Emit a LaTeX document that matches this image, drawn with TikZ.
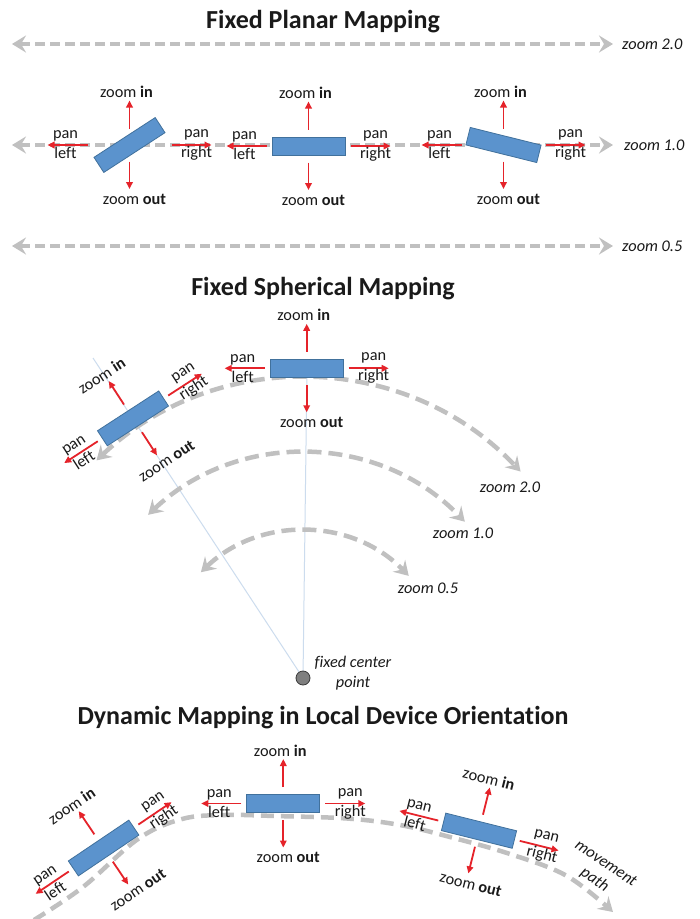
\documentclass[tikz,border=0pt]{standalone}
\usepackage{fontspec}
\setmainfont{Carlito}[Ligatures=NoCommon]
\usetikzlibrary{arrows.meta}
\definecolor{boxfill}{HTML}{5B93CD}
\definecolor{boxline}{HTML}{41719C}
\definecolor{dashgray}{HTML}{C0C0C0}
\definecolor{arrred}{HTML}{E5232A}
\definecolor{rayblue}{HTML}{CCDCEE}
\definecolor{txt}{HTML}{1A1A1A}
\definecolor{dotfill}{HTML}{7F7F7F}
\definecolor{dotline}{HTML}{3A3A3A}
\tikzset{
 devbox/.style={draw=boxline, line width=0.8pt, fill=boxfill, minimum width=73pt, minimum height=18pt, inner sep=0pt},
 redarr/.style={draw=arrred, line width=1.8pt, -{Triangle[length=7pt,width=6.5pt]}},
 lbl/.style={font=\fontsize{16.3}{20}\selectfont, text=txt, inner sep=0pt, align=center},
 zlbl/.style={font=\fontsize{16.3}{20}\selectfont\itshape, text=txt, inner sep=0pt, align=center},
 ttl/.style={font=\fontsize{26}{30}\selectfont\bfseries, text=txt, inner sep=0pt},
 grayhead/.tip={Stealth[length=14pt,width=17pt,inset=5pt]},
 flatdash/.style={draw=dashgray, line width=4pt, dash pattern=on 10pt off 5pt, grayhead-grayhead},
 arcdash/.style={draw=dashgray, line width=4.5pt, dash pattern=on 14pt off 7pt, grayhead-grayhead},
 pathdash/.style={draw=dashgray, line width=4.5pt, dash pattern=on 13pt off 7pt, -grayhead},
 ray/.style={draw=rayblue, line width=1pt},
}
\newcommand{\DevBox}[5]{%
 \begin{scope}[shift={(#2,#3)}, rotate=#5, transform shape]
  \node[devbox, rotate=#4-#5] (#1) at (0,0) {};
  \coordinate (#1i0) at (0,-16.5); \coordinate (#1i1) at (0,-44.5);
  \coordinate (#1o0) at (0,16.5);  \coordinate (#1o1) at (0,44);
  \coordinate (#1l0) at (-42,0);   \coordinate (#1l1) at (-82,0);
  \coordinate (#1r0) at (42,0);    \coordinate (#1r1) at (82,0);
  \draw[redarr] (#1i0) -- (#1i1);
  \draw[redarr] (#1o0) -- (#1o1);
  \draw[redarr] (#1l0) -- (#1l1);
  \draw[redarr] (#1r0) -- (#1r1);
  \node[lbl] (#1in) at (-3,-53) {zoom \textbf{in}};
  \node[lbl] (#1out) at (5,54) {zoom \textbf{out}};
  \node[lbl] (#1left) at (-64,0) {pan\\left};
  \node[lbl] (#1right) at (67,0) {pan\\right};
 \end{scope}}
\begin{document}
\begin{tikzpicture}[x=1pt,y=-1pt]
\fill[white] (0,0) rectangle (700,919);
\useasboundingbox (0,0) rectangle (700,919);

% ---------- Fixed Planar Mapping ----------
\node[ttl, anchor=base] (t1) at (323,28.5) {Fixed Planar Mapping};
\coordinate (l2a) at (12,44);  \coordinate (l2b) at (613,44);
\coordinate (l1a) at (12,145); \coordinate (l1b) at (613,145);
\coordinate (l0a) at (12,246); \coordinate (l0b) at (613,246);
\draw[flatdash] (l2a) -- (l2b);
\draw[flatdash] (l1a) -- (l1b);
\draw[flatdash] (l0a) -- (l0b);
\node[zlbl, anchor=west] (z20) at (622,44) {zoom 2.0};
\node[zlbl, anchor=west] (z10) at (624,145) {zoom 1.0};
\node[zlbl, anchor=west] (z05) at (622,246) {zoom 0.5};
\DevBox{pa}{129.5}{145}{33}{0}
\DevBox{pb}{308.5}{146}{0}{0}
\DevBox{pc}{503.5}{145}{-14}{0}

% ---------- Fixed Spherical Mapping ----------
\node[ttl, anchor=base] (t2) at (323,295) {Fixed Spherical Mapping};
\coordinate (cpc) at (303,678);
\coordinate (rayL) at (93,358);
\coordinate (rayC) at (307,368);
\draw[ray] (cpc) -- (rayL);
\draw[ray] (cpc) -- (rayC);
\draw[arcdash] ([shift={(-133.5:300)}]cpc) arc[start angle=-133.5, end angle=-43.5, radius=300];
\draw[arcdash] ([shift={(-133.5:225)}]cpc) arc[start angle=-133.5, end angle=-44, radius=225];
\draw[arcdash] ([shift={(-134:147)}]cpc) arc[start angle=-134, end angle=-44, radius=147];
\node[circle, fill=dotfill, draw=dotline, line width=0.8pt, minimum size=14pt, inner sep=0pt] (cp) at (cpc) {};
\node[zlbl] (fcp) at (353,673) {fixed center\\point};
\node[zlbl] (s20) at (510,487) {zoom 2.0};
\node[zlbl] (s10) at (463,533) {zoom 1.0};
\node[zlbl] (s05) at (428,588) {zoom 0.5};
\DevBox{sb}{306.7}{368.3}{0}{0}
\DevBox{sa}{133}{418.4}{33}{33}

% ---------- Dynamic Mapping ----------
\node[ttl, anchor=base] (t3) at (323,724) {Dynamic Mapping in Local Device Orientation};
\draw[pathdash] plot[smooth, tension=0.6] coordinates {(34,920) (83,887) (138,839) (182,819) (225,815) (275,816) (347,818.5) (400,825) (450,837) (510,854) (567,876) (613,912)};
\DevBox{da}{103.6}{848}{34}{34}
\DevBox{db}{283.3}{803.5}{0}{0}
\DevBox{dc}{479}{830.7}{-14}{-14}
\node[zlbl, rotate=-34] (mp) at (600,872) {movement\\path};
\end{tikzpicture}
\end{document}
